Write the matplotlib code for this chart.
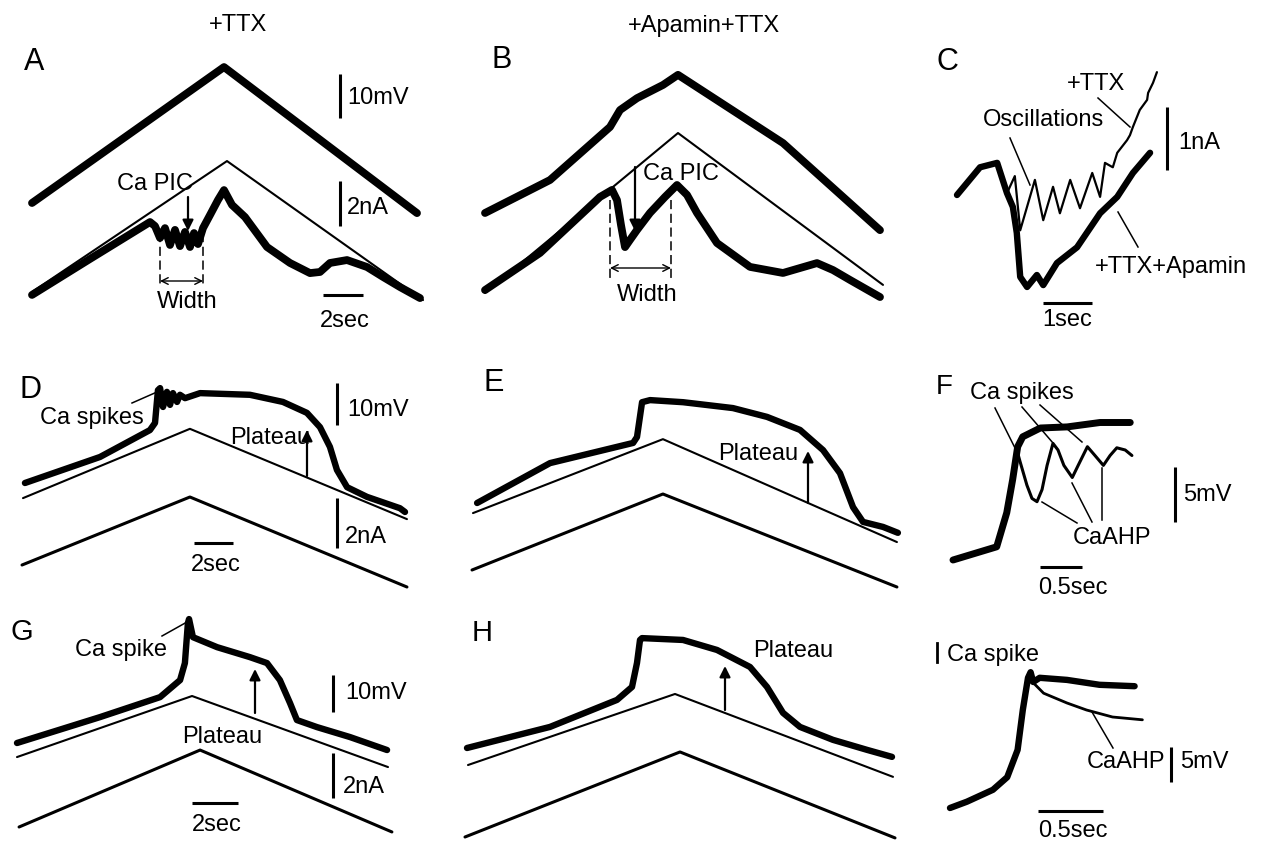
import matplotlib
matplotlib.use("Agg")
import matplotlib.pyplot as plt

plt.rcParams['font.family'] = ['Liberation Sans', 'DejaVu Sans']

# ---- traces (time in s, voltage in mV, current in nA) ----
# A: +TTX, voltage clamp ramp
A_V_T = [0, 9.6, 19.25]
A_V_MV = [-70, -39.1, -72.3]
A_LEAK_T = [0, 9.75, 19.55]
A_LEAK_NA = [0, 5.82, -0.36]
A_I_T = [0, 2.9, 5.9, 6.15, 6.4, 6.65, 6.9, 7.15, 7.4, 7.65, 7.9, 8.1, 8.3, 8.55,
         8.9, 9.3, 9.6, 10.0, 10.65, 11.75, 12.9, 13.9, 14.4, 14.9, 15.75, 16.75,
         17.55, 18.4, 19.4]
A_I_NA = [-0.13, 1.47, 3.11, 2.93, 2.4, 2.84, 2.09, 2.76, 2.04, 2.67, 2.0, 2.62, 2.13,
          2.84, 3.42, 4.09, 4.53, 3.87, 3.33, 2.0, 1.29, 0.84, 0.89, 1.29, 1.42, 1.11,
          0.67, 0.22, -0.27]

# B: +Apamin+TTX
B_V_T = [0, 3.25, 6.25, 6.75, 7.6, 8.9, 9.65, 14.9, 19.75]
B_V_MV = [-70, -62.5, -50.45, -46.6, -43.9, -40.9, -38.6, -54.1, -73.9]
B_LEAK_T = [0, 9.65, 19.9]
B_LEAK_NA = [0, 7.11, 0.36]
B_I_T = [0, 2.75, 5.75, 6.35, 6.6, 6.8, 7.0, 7.25, 7.6, 8.25, 9.0, 9.6, 10.1, 10.6,
         11.6, 13.25, 14.9, 15.75, 16.6, 17.4, 18.25, 19.75]
B_I_NA = [0.13, 1.78, 4.27, 4.58, 4.13, 3.02, 2.04, 2.36, 2.8, 3.56, 4.27, 4.8, 4.36,
          3.56, 2.22, 1.16, 0.89, 1.11, 1.33, 1.02, 0.58, -0.18]

# C: overlay of the Ca PIC, +TTX vs +TTX+Apamin
C_APA_T = [0, 0.47, 0.82, 1.02, 1.14, 1.22, 1.29, 1.43, 1.63, 1.76, 2.04, 2.45, 2.92,
           3.27, 3.59, 3.94]
C_APA_NA = [0, 0.44, 0.51, 0.03, -0.19, -0.6, -1.3, -1.46, -1.27, -1.43, -1.08, -0.83,
            -0.29, -0.03, 0.35, 0.67]
C_TTX_T = [0, 0.47, 0.82, 1.02, 1.18, 1.29, 1.59, 1.76, 1.96, 2.1, 2.31, 2.51, 2.76,
           2.92, 3.02, 3.18, 3.27, 3.47, 3.53, 3.59, 3.73, 3.88, 3.9, 4.0, 4.08]
C_TTX_NA = [0, 0.44, 0.51, 0.03, 0.3, -0.56, 0.24, -0.4, 0.13, -0.29, 0.24, -0.21, 0.35,
            -0.03, 0.51, 0.44, 0.67, 0.87, 0.95, 1.08, 1.35, 1.51, 1.62, 1.78, 1.95]

# D: current clamp, +TTX
D_V_T = [0.1, 3.95, 6.51, 6.77, 6.92, 7.03, 7.18, 7.38, 7.54, 7.69, 7.9, 8.05, 8.31,
         9.08, 11.64, 13.33, 14.56, 15.23, 15.74, 16.1, 16.62, 17.64, 19.33, 19.59]
D_V_MV = [-70, -63.8, -57.4, -55.7, -47.9, -47.4, -51.9, -48.3, -51.4, -48.6, -50.7,
          -49.0, -49.8, -48.6, -49.0, -50.7, -53.3, -56.7, -61.4, -66.9, -71.0, -73.3,
          -76.0, -76.9]
D_LIN_T = [0, 8.56, 19.69]
D_LIN_MV = [-73.6, -57.1, -78.6]
D_CMD_T = [-0.05, 8.56, 19.69]
D_CMD_NA = [0, 2.72, -0.88]

# E: current clamp, +Apamin+TTX
E_V_T = [0.21, 3.95, 8.21, 8.41, 8.67, 9.08, 10.77, 13.33, 15.08, 16.77, 17.95, 18.82,
         19.49, 20.0, 21.03, 21.79]
E_V_MV = [-70, -60.5, -55.7, -54.3, -46.0, -45.5, -46.0, -47.4, -49.5, -52.6, -57.4,
          -62.9, -71.0, -74.5, -75.7, -77.1]
E_LIN_T = [0, 9.74, 21.74]
E_LIN_MV = [-72.4, -54.8, -79.3]
E_CMD_T = [-0.05, 9.74, 21.74]
E_CMD_NA = [0, 3.04, -0.68]

# F: Ca spikes and CaAHPs, expanded
F_PLT_T = [0, 0.52, 0.64, 0.71, 0.77, 0.83, 1.04, 1.36, 1.75, 2.11]
F_PLT_MV = [-60, -58.8, -55.7, -52.7, -49.7, -48.8, -48.0, -47.9, -47.5, -47.5]
F_OSC_T = [0.76, 0.8, 0.88, 0.94, 1.0, 1.06, 1.12, 1.19, 1.25, 1.32, 1.42, 1.49, 1.6,
           1.69, 1.79, 1.87, 1.95, 2.05, 2.13]
F_OSC_MV = [-50.0, -51.1, -53.2, -54.4, -54.7, -53.6, -51.4, -49.4, -50.0, -51.4, -52.5,
            -51.4, -49.7, -50.5, -51.4, -50.5, -49.8, -50.0, -50.5]

# G: current clamp, single Ca spike
G_V_T = [0, 3.61, 6.22, 7.09, 7.3, 7.43, 7.48, 7.65, 8.7, 10.13, 10.87, 11.43, 11.87,
         12.17, 13.04, 14.48, 16.09]
G_V_MV = [-70, -63.0, -57.6, -53.0, -48.4, -37.6, -36.5, -41.4, -44.1, -46.8, -48.4,
          -53.0, -59.2, -63.8, -65.7, -68.4, -71.9]
G_LIN_T = [0, 7.61, 16.13]
G_LIN_MV = [-73.8, -57.3, -76.5]
G_CMD_T = [0.09, 7.96, 16.3]
G_CMD_NA = [0, 3.42, -0.22]

# H: current clamp, plateau without spike
H_V_T = [0, 4.15, 7.5, 8.25, 8.5, 8.65, 8.75, 10.8, 12.5, 14.15, 15.0, 15.8, 16.65,
         18.3, 20.0, 21.25]
H_V_MV = [-70, -64.3, -57.0, -53.5, -47.0, -40.8, -40.3, -40.8, -43.5, -48.1, -53.5,
          -60.5, -64.3, -67.8, -70.5, -72.4]
H_LIN_T = [0.05, 10.4, 21.3]
H_LIN_MV = [-74.6, -55.4, -77.8]
H_CMD_T = [-0.1, 10.65, 21.4]
H_CMD_NA = [0, 3.78, -0.04]

# I (unlabelled, bottom right): Ca spike and CaAHP
I_PLT_T = [0, 0.13, 0.33, 0.44, 0.52, 0.56, 0.6, 0.62, 0.64, 0.69, 0.9, 1.15, 1.42]
I_PLT_MV = [-60, -59.1, -57.4, -55.6, -51.7, -46.0, -41.4, -40.6, -42.0, -41.4, -41.7,
            -42.4, -42.6]
I_AHP_T = [0.62, 0.64, 0.72, 0.9, 1.05, 1.25, 1.48]
I_AHP_MV = [-40.6, -42.1, -43.6, -45.0, -46.0, -47.0, -47.4]

W, H = 1273, 849
fig = plt.figure(figsize=(W / 100, H / 100), dpi=100)


def panel(box, ox, sx, oy, sy, base):
    # box in image pixels, (ox, oy) pixel of the data origin, sx/sy pixels per unit
    L, T, R, B = box
    ax = fig.add_axes([L / W, 1 - B / H, (R - L) / W, (B - T) / H])
    ax.set_xlim((L - ox) / sx, (R - ox) / sx)
    ax.set_ylim(base + (oy - B) / sy, base + (oy - T) / sy)
    ax.set_axis_off()
    return ax


def trace(ax, t, y, lw):
    ax.plot(t, y, color='black', lw=lw, solid_joinstyle='round',
            solid_capstyle='round', clip_on=False)


def bar(ax, x, y, length, vertical, lw=2.2):
    if vertical:
        ax.plot([x, x], [y, y + length], color='black', lw=lw, clip_on=False,
                solid_capstyle='butt')
    else:
        ax.plot([x, x + length], [y, y], color='black', lw=lw, clip_on=False,
                solid_capstyle='butt')


THICK = 5.6
MID = 4.6
THIN = 1.5
CMD = 2.2

# A
axA = panel((0, 40, 450, 330), 32, 20, 203, 4.4, -70)
axAi = panel((0, 40, 450, 330), 32, 20, 292, 22.5, 0)
trace(axA, A_V_T, A_V_MV, THICK)
trace(axAi, A_LEAK_T, A_LEAK_NA, THIN)
trace(axAi, A_I_T, A_I_NA, THICK)
bar(axA, 15.4, -50.7, 10, True)
bar(axAi, 15.4, 2.93, 2, True)
bar(axAi, 14.55, -0.13, 2, False)

# B
axB = panel((450, 40, 900, 330), 485, 20, 213, 4.4, -70)
axBi = panel((450, 40, 900, 330), 485, 20, 293, 22.5, 0)
trace(axB, B_V_T, B_V_MV, THICK)
trace(axBi, B_LEAK_T, B_LEAK_NA, THIN)
trace(axBi, B_I_T, B_I_NA, THICK)

# C
axC = panel((900, 40, 1273, 330), 957, 49, 195, 63, 0)
trace(axC, C_TTX_T, C_TTX_NA, 1.6)
trace(axC, C_APA_T, C_APA_NA, MID)
bar(axC, 4.29, 0.4, 1, True)
bar(axC, 1.76, -1.71, 1, False)

# D
axD = panel((0, 330, 450, 590), 23, 19.5, 483, 4.2, -70)
axDi = panel((0, 330, 450, 590), 23, 19.5, 565, 25, 0)
trace(axD, D_LIN_T, D_LIN_MV, THIN)
trace(axD, D_V_T, D_V_MV, MID)
trace(axDi, D_CMD_T, D_CMD_NA, CMD)
bar(axD, 16.1, -56.2, 10, True)
bar(axDi, 16.1, 0.68, 2, True)
bar(axDi, 8.77, 0.88, 2, False)

# E
axE = panel((450, 330, 900, 590), 473, 19.5, 503, 4.2, -70)
axEi = panel((450, 330, 900, 590), 473, 19.5, 570, 25, 0)
trace(axE, E_LIN_T, E_LIN_MV, THIN)
trace(axE, E_V_T, E_V_MV, MID)
trace(axEi, E_CMD_T, E_CMD_NA, CMD)

# F
axF = panel((900, 330, 1273, 600), 953, 84, 560, 11, -60)
trace(axF, F_OSC_T, F_OSC_MV, 2.2)
trace(axF, F_PLT_T, F_PLT_MV, 5.0)
bar(axF, 2.64, -56.5, 5, True)
bar(axF, 1.04, -60.64, 0.5, False)

# G
axG = panel((0, 590, 450, 849), 17, 23, 743, 3.7, -70)
axGi = panel((0, 590, 450, 849), 17, 23, 827, 22.5, 0)
trace(axG, G_LIN_T, G_LIN_MV, THIN)
trace(axG, G_V_T, G_V_MV, MID)
trace(axGi, G_CMD_T, G_CMD_NA, CMD)
bar(axG, 13.74, -61.6, 10, True)
bar(axGi, 13.74, 1.29, 2, True)
bar(axGi, 7.61, 1.07, 2, False)

# H
axH = panel((450, 590, 900, 849), 467, 20, 748, 3.7, -70)
axHi = panel((450, 590, 900, 849), 467, 20, 837, 22.5, 0)
trace(axH, H_LIN_T, H_LIN_MV, THIN)
trace(axH, H_V_T, H_V_MV, MID)
trace(axHi, H_CMD_T, H_CMD_NA, CMD)

# bottom right
axI = panel((900, 600, 1273, 849), 950, 130, 808, 7, -60)
trace(axI, I_AHP_T, I_AHP_MV, 2.0)
trace(axI, I_PLT_T, I_PLT_MV, 4.6)
bar(axI, 1.7, -56.3, 5, True)
bar(axI, 0.68, -60.43, 0.5, False)

# ---- labels and pointers, in image pixels ----
ov = fig.add_axes([0, 0, 1, 1])
ov.set_xlim(0, W)
ov.set_ylim(H, 0)
ov.set_axis_off()

FS = 17


def txt(x, y, s, ha='left', size=FS):
    ov.text(x, y, s, ha=ha, va='center', fontsize=size)


def ptr(x0, y0, x1, y1):
    ov.plot([x0, x1], [y0, y1], color='black', lw=1.1)


def arrow(x0, y0, x1, y1):
    ov.annotate('', xy=(x1, y1), xytext=(x0, y0),
                arrowprops=dict(arrowstyle='-|>', color='black', lw=1.6,
                                mutation_scale=16, shrinkA=0, shrinkB=0))


def width_mark(xl, xr, ytop, ybot, yarr):
    for x in (xl, xr):
        ov.plot([x, x], [ytop, ybot], color='black', lw=1.1, ls=(0, (6, 3)))
    ov.annotate('', xy=(xr, yarr), xytext=(xl, yarr),
                arrowprops=dict(arrowstyle='<->', color='black', lw=1.0,
                                mutation_scale=12, shrinkA=0, shrinkB=0))


txt(238, 25, '+TTX', ha='center', size=17)
txt(704, 26, '+Apamin+TTX', ha='center', size=17)

for lx, ly, s, size in [(24, 62, 'A', 22), (492, 60, 'B', 22), (936, 62, 'C', 22),
                        (19, 390, 'D', 22), (484, 383, 'E', 22), (936, 387, 'F', 20),
                        (11, 632, 'G', 21), (472, 633, 'H', 21)]:
    txt(lx, ly, s, size=size)

# A
txt(117, 184, 'Ca PIC')
arrow(188, 197, 188, 231)
width_mark(160, 203, 233, 287, 281)
txt(187, 302, 'Width', ha='center')
txt(347, 98, '10mV')
txt(347, 208, '2nA')
txt(345, 321, '2sec', ha='center')

# B
txt(643, 174, 'Ca PIC')
arrow(635, 167, 635, 231)
width_mark(610, 671, 200, 282, 268)
txt(647, 295, 'Width', ha='center')

# C
txt(1067, 84, '+TTX')
ptr(1098, 98, 1130, 127)
txt(983, 120, 'Oscillations')
ptr(1010, 138, 1030, 185)
txt(1095, 267, '+TTX+Apamin')
ptr(1118, 212, 1138, 247)
txt(1178, 143, '1nA')
txt(1067, 320, '1sec', ha='center')

# D
txt(40, 418, 'Ca spikes')
ptr(132, 403, 157, 392)
txt(230, 438, 'Plateau')
arrow(307, 476, 307, 430)
txt(347, 410, '10mV')
txt(345, 537, '2nA')
txt(216, 565, '2sec', ha='center')

# E
txt(718, 454, 'Plateau')
arrow(808, 503, 808, 451)

# F
txt(970, 393, 'Ca spikes')
ptr(995, 408, 1015, 448)
ptr(1022, 407, 1053, 443)
ptr(1040, 405, 1082, 442)
txt(1073, 538, 'CaAHP')
ptr(1077, 523, 1042, 502)
ptr(1092, 522, 1072, 483)
ptr(1102, 520, 1102, 468)
txt(1183, 495, '5mV')
txt(1073, 588, '0.5sec', ha='center')

# G
txt(75, 650, 'Ca spike')
ptr(162, 636, 187, 622)
arrow(255, 713, 255, 669)
txt(182, 737, 'Plateau')
txt(345, 693, '10mV')
txt(343, 787, '2nA')
txt(217, 825, '2sec', ha='center')

# H
txt(753, 651, 'Plateau')
arrow(725, 710, 725, 666)

# bottom right
ov.plot([937, 937], [643, 662], color='black', lw=2.0)
txt(947, 655, 'Ca spike')
ptr(1092, 712, 1113, 748)
txt(1087, 762, 'CaAHP')
txt(1180, 762, '5mV')
txt(1073, 831, '0.5sec', ha='center')

fig.savefig('out.png', dpi=100, facecolor='white')
